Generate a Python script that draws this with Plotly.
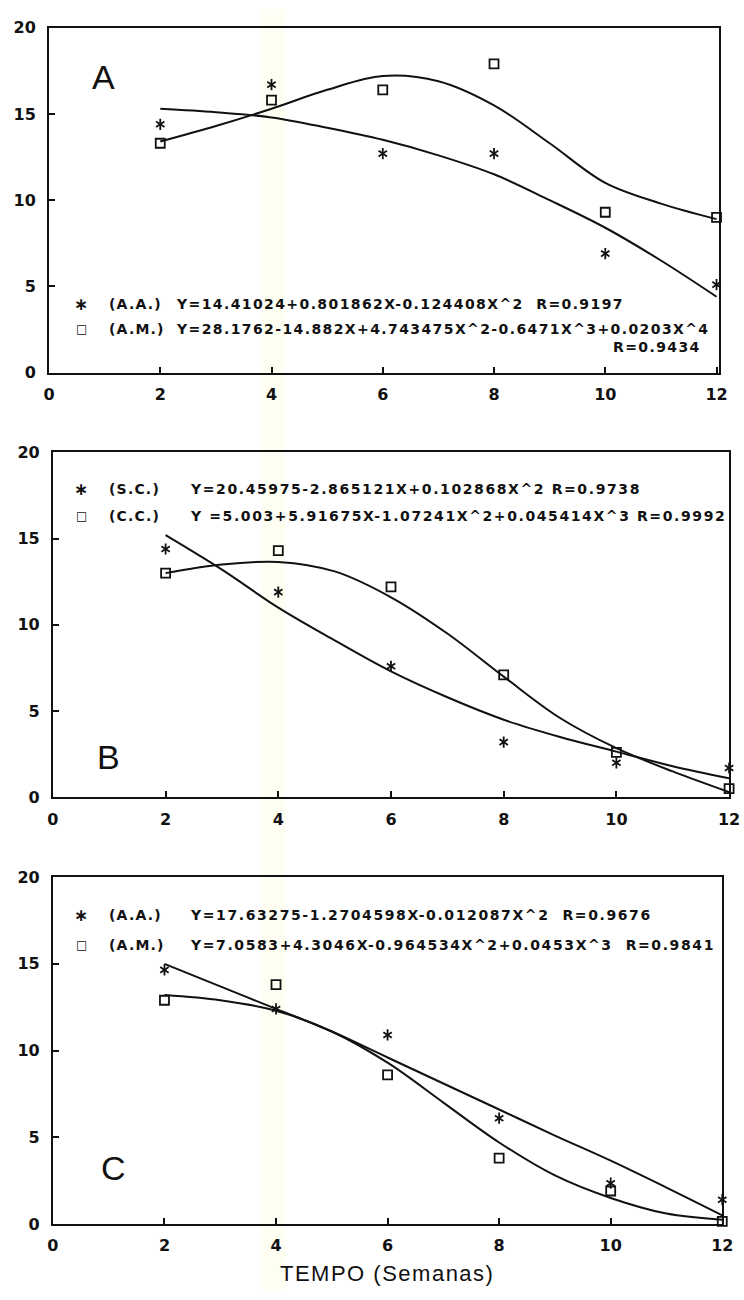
import plotly.graph_objects as go

W, H = 744, 1300

# Sampling weeks and the abscissae at which the fitted curves are traced
semanas = [2, 4, 6, 8, 10, 12]
curva_x = [2, 3, 4, 5, 6, 7, 8, 9, 10, 11, 12]

# Panel A
a_aa_obs = [14.4, 16.7, 12.7, 12.7, 6.9, 5.1]
a_am_obs = [13.3, 15.8, 16.4, 17.9, 9.3, 9.0]
a_aa_fit = [15.3, 15.1, 14.8, 14.2, 13.5, 12.6, 11.5, 10.0, 8.4, 6.5, 4.4]
a_am_fit = [13.4, 14.3, 15.3, 16.4, 17.2, 16.9, 15.5, 13.3, 11.0, 9.8, 8.9]

# Panel B
b_sc_obs = [14.4, 11.9, 7.6, 3.2, 2.0, 1.7]
b_cc_obs = [13.0, 14.3, 12.2, 7.1, 2.6, 0.5]
b_sc_fit = [15.2, 13.2, 11.0, 9.1, 7.3, 5.8, 4.5, 3.5, 2.65, 1.8, 1.1]
b_cc_fit = [13.0, 13.5, 13.65, 13.1, 11.6, 9.5, 7.0, 4.6, 2.85, 1.5, 0.3]

# Panel C
c_aa_obs = [14.65, 12.4, 10.9, 6.1, 2.35, 1.4]
c_am_obs = [12.9, 13.8, 8.6, 3.8, 1.9, 0.15]
c_aa_fit = [15.0, 13.7, 12.4, 11.1, 9.6, 8.1, 6.6, 5.1, 3.65, 2.1, 0.5]
c_am_fit = [13.2, 12.9, 12.3, 11.1, 9.3, 7.0, 4.7, 2.8, 1.5, 0.6, 0.25]

y_ticks = [0, 5, 10, 15, 20]
y_ticktext = ["0", "5", "10", "15", "20"]
x_ticks = [0, 2, 4, 6, 8, 10, 12]
x_ticktext = ["0", "2", "4", "6", "8", "10", "12"]

# Legend rows: (symbol, tag, equation)
leg_a = [("∗", "(A.A.)", "Y=14.41024+0.801862X-0.124408X^2  R=0.9197"),
         ("□", "(A.M.)", "Y=28.1762-14.882X+4.743475X^2-0.6471X^3+0.0203X^4")]
leg_a_extra = "R=0.9434"
leg_b = [("∗", "(S.C.)", "Y=20.45975-2.865121X+0.102868X^2 R=0.9738"),
         ("□", "(C.C.)", "Y =5.003+5.91675X-1.07241X^2+0.045414X^3 R=0.9992")]
leg_c = [("∗", "(A.A.)", "Y=17.63275-1.2704598X-0.012087X^2  R=0.9676"),
         ("□", "(A.M.)", "Y=7.0583+4.3046X-0.964534X^2+0.0453X^3  R=0.9841")]

INK = "#111111"
FONT = "DejaVu Sans"


def px(x):
    return x / W


def py(y):
    return 1 - y / H


panels = [
    dict(xa="x", ya="y", xd=(44, 730), yd=(19, 369), xmax=12.05,
         star=a_aa_obs, sq=a_am_obs, fit_star=a_aa_fit, fit_sq=a_am_fit,
         legend=leg_a, ly=(299, 325), eqx=172, sp=1.4, letter="A", lpos=(100, 69)),
    dict(xa="x2", ya="y2", xd=(48, 740), yd=(450, 800), xmax=12.0,
         star=b_sc_obs, sq=b_cc_obs, fit_star=b_sc_fit, fit_sq=b_cc_fit,
         legend=leg_b, ly=(487, 515), eqx=186, sp=1.6, letter="B", lpos=(105, 759)),
    dict(xa="x3", ya="y3", xd=(48, 733), yd=(881, 1233), xmax=12.0,
         star=c_aa_obs, sq=c_am_obs, fit_star=c_aa_fit, fit_sq=c_am_fit,
         legend=leg_c, ly=(919, 950), eqx=186, sp=1.6, letter="C", lpos=(110, 1176)),
]

fig = go.Figure()
annotations = []
layout_axes = {}

for i, p in enumerate(panels):
    xa, ya = p["xa"], p["ya"]
    # fitted regression curves
    for fit in (p["fit_star"], p["fit_sq"]):
        fig.add_trace(go.Scatter(
            x=curva_x, y=fit, xaxis=xa, yaxis=ya, mode="lines",
            line=dict(color=INK, width=2, shape="spline", smoothing=1.0),
            showlegend=False, hoverinfo="skip"))
    # observed values: six-spoke asterisk from two three-spoke symbols
    for sym in ("y-up-open", "y-down-open"):
        fig.add_trace(go.Scatter(
            x=semanas, y=p["star"], xaxis=xa, yaxis=ya, mode="markers",
            marker=dict(symbol=sym, size=7, color=INK,
                        line=dict(color=INK, width=1.8)),
            cliponaxis=False, showlegend=False))
    fig.add_trace(go.Scatter(
        x=semanas, y=p["sq"], xaxis=xa, yaxis=ya, mode="markers",
        marker=dict(symbol="square-open", size=9, color=INK,
                    line=dict(color=INK, width=1.8)),
        cliponaxis=False, showlegend=False))

    suffix = "" if i == 0 else str(i + 1)
    common = dict(showline=True, linecolor=INK, linewidth=2, mirror=True,
                  ticks="inside", ticklen=6, tickwidth=1.5, tickcolor=INK,
                  showgrid=False, zeroline=False, fixedrange=True,
                  tickfont=dict(family=FONT, size=16, color=INK, weight="bold"))
    layout_axes["xaxis" + suffix] = dict(
        common, domain=[px(p["xd"][0]), px(p["xd"][1])],
        range=[0, p["xmax"]], tickvals=x_ticks, ticktext=x_ticktext,
        anchor="y" + suffix, ticklabelstandoff=6)
    layout_axes["yaxis" + suffix] = dict(
        common, domain=[py(p["yd"][1]), py(p["yd"][0])],
        range=[0, 20], tickvals=y_ticks, ticktext=y_ticktext,
        anchor="x" + suffix, ticklabelstandoff=8)

    # panel letter
    annotations.append(dict(
        text=p["letter"], x=px(p["lpos"][0]), y=py(p["lpos"][1]),
        xref="paper", yref="paper", xanchor="center", yanchor="middle",
        showarrow=False, font=dict(family="Liberation Sans", size=34, color=INK)))

    # equation legend
    for (sym, tag, eq), yy in zip(p["legend"], p["ly"]):
        annotations.append(dict(
            text=sym, x=px(77), y=py(yy), xref="paper", yref="paper",
            xanchor="center", yanchor="middle", showarrow=False,
            font=dict(family=FONT, size=17 if sym == "∗" else 12,
                      color=INK, weight="bold")))
        annotations.append(dict(
            text='<span style="letter-spacing:1.2px">' + tag + "</span>",
            x=px(103), y=py(yy), xref="paper", yref="paper",
            xanchor="left", yanchor="middle", showarrow=False,
            font=dict(family=FONT, size=14, color=INK, weight="bold")))
        annotations.append(dict(
            text='<span style="letter-spacing:%.1fpx">' % p["sp"] + eq + "</span>",
            x=px(p["eqx"]), y=py(yy), xref="paper", yref="paper",
            xanchor="left", yanchor="middle", showarrow=False,
            font=dict(family=FONT, size=14, color=INK, weight="bold")))

annotations.append(dict(
    text='<span style="letter-spacing:1.4px">' + leg_a_extra + "</span>",
    x=px(713), y=py(343), xref="paper", yref="paper",
    xanchor="right", yanchor="middle", showarrow=False,
    font=dict(family=FONT, size=14, color=INK, weight="bold")))

annotations.append(dict(
    text='<span style="letter-spacing:1.5px">TEMPO (Semanas)</span>',
    x=px(390), y=py(1283), xref="paper", yref="paper",
    xanchor="center", yanchor="middle", showarrow=False,
    font=dict(family="Liberation Sans", size=22, color=INK)))

# faint yellowish band left on the scanned page
shapes = [dict(type="rect", xref="paper", yref="paper",
               x0=px(262), x1=px(286), y0=0, y1=1, layer="below",
               line=dict(width=0), fillcolor="rgba(255,250,190,0.18)")]

fig.update_layout(
    width=W, height=H, autosize=False,
    margin=dict(l=0, r=0, t=0, b=0),
    paper_bgcolor="white", plot_bgcolor="rgba(0,0,0,0)",
    showlegend=False, annotations=annotations, shapes=shapes, **layout_axes)

fig.write_html("out.html")
